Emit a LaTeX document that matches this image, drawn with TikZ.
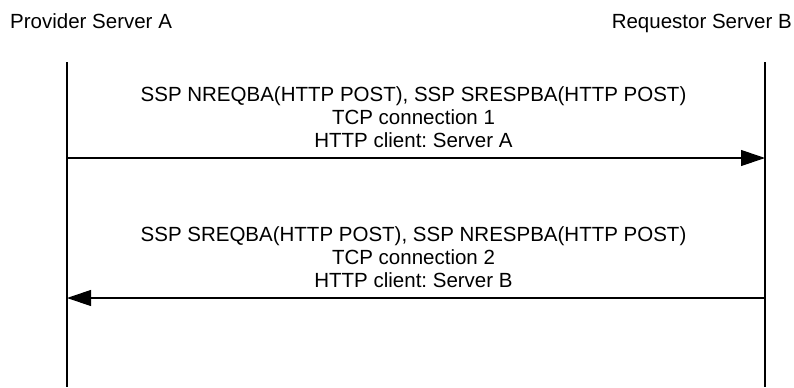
\documentclass[tikz,border=0pt]{standalone}
\usepackage{fontspec}
\setmainfont{Liberation Sans}
\usetikzlibrary{arrows.meta}
\frenchspacing
\begin{document}
\begin{tikzpicture}[x=1bp,y=-1bp,
  lbl/.style={font=\fontsize{20.5bp}{23bp}\selectfont, inner sep=0pt, text=black},
  life/.style={line width=1.1bp, draw=black},
  msg/.style={line width=1.1bp, draw=black, -{Triangle[length=24bp,width=16bp]}}]
\useasboundingbox (0,0) rectangle (794,387);
% headers
\node[lbl, anchor=base west] (hA) at (10,28) {Provider Server A};
\node[lbl, anchor=base east] (hB) at (792,28) {Requestor Server B};
% lifelines
\coordinate (At) at (67,62);
\coordinate (Ab) at (67,387);
\coordinate (Bt) at (765,62);
\coordinate (Bb) at (765,387);
\draw[life] (At) -- (Ab);
\draw[life] (Bt) -- (Bb);
% message 1
\node[lbl, anchor=base] (m1a) at (413.5,101.5) {SSP NREQBA(HTTP POST), SSP SRESPBA(HTTP POST)};
\node[lbl, anchor=base] (m1b) at (413.5,124.5) {TCP connection 1};
\node[lbl, anchor=base] (m1c) at (413.5,147.5) {HTTP client: Server A};
\coordinate (a1s) at (67,158);
\coordinate (a1e) at (765,158);
\draw[msg] (a1s) -- (a1e);
% message 2
\node[lbl, anchor=base] (m2a) at (413.5,241.5) {SSP SREQBA(HTTP POST), SSP NRESPBA(HTTP POST)};
\node[lbl, anchor=base] (m2b) at (413.5,264.5) {TCP connection 2};
\node[lbl, anchor=base] (m2c) at (413.5,287.5) {HTTP client: Server B};
\coordinate (a2s) at (765,298);
\coordinate (a2e) at (67,298);
\draw[msg] (a2s) -- (a2e);
\end{tikzpicture}
\end{document}
